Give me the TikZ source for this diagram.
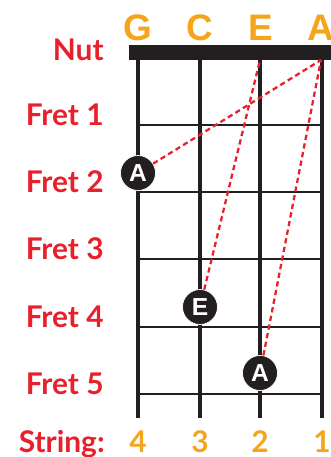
\documentclass[tikz,border=0pt]{standalone}
\usepackage{fontspec}
\setmainfont{Lato}
\newfontfamily\notefont{Liberation Sans}
\usepackage{xcolor}
\usepackage{tikz}
\usetikzlibrary{positioning}
\definecolor{FretRed}{RGB}{232,32,44}
\definecolor{NoteOrange}{RGB}{246,164,28}
\definecolor{BoardBlack}{RGB}{35,31,32}

\begin{document}
\begin{tikzpicture}[x=0.02cm,y=-0.02cm,
        lbl/.style={anchor=base east,text=FretRed,font=\fontsize{17}{17}\selectfont\bfseries,inner sep=0pt},
        tuning/.style={anchor=base,text=NoteOrange,font=\notefont\fontsize{21}{21}\selectfont\bfseries,inner sep=0pt},
        num/.style={anchor=base,text=NoteOrange,font=\fontsize{17}{17}\selectfont\bfseries,inner sep=0pt},
        wire/.style={BoardBlack,line width=1.9pt},
        fretline/.style={BoardBlack,line width=1.7pt},
        dot/.style={circle,fill=BoardBlack,draw=white,line width=0.4pt,minimum size=0.7cm,inner sep=0pt,
                    text=white,font=\notefont\fontsize{14}{14}\selectfont\bfseries},
        path/.style={FretRed,line width=1.3pt,dash pattern=on 3pt off 2pt}
      ]
        \useasboundingbox (0,0) rectangle (331,457);
        % strings
        \foreach \x in {138,200,260,322}
          \draw[wire] (\x,60) -- (\x,418);
        % frets
        \foreach \y in {125,192,259,327,394}
          \draw[fretline] (138,\y) -- (322,\y);
        % nut
        \fill[BoardBlack] (129,45) rectangle (331,60);
        \coordinate (nutE) at (260,60);
        \coordinate (nutA) at (321,60);
        % tuning
        \node[tuning] (G) at (138,40) {G};
        \node[tuning] (C) at (200,40) {C};
        \node[tuning] (E) at (261,40) {E};
        \node[tuning] (A) at (321,40) {A};
        % labels
        \node[lbl] (nut) at (104,60) {Nut};
        \node[lbl] (f1) at (104,125) {Fret 1};
        \node[lbl] (f2) at (104,192) {Fret 2};
        \node[lbl] (f3) at (104,259) {Fret 3};
        \node[lbl] (f4) at (104,327) {Fret 4};
        \node[lbl] (f5) at (104,394) {Fret 5};
        \node[lbl] (str) at (105,452) {String:};
        \node[num] (s4) at (138,452) {4};
        \node[num] (s3) at (200,452) {3};
        \node[num] (s2) at (260,452) {2};
        \node[num] (s1) at (322,452) {1};
        % notes
        \node[dot] (dA1) at (138,173) {A};
        \node[dot] (dE) at (200,307) {E};
        \node[dot] (dA2) at (260,373) {A};
        \draw[path] (dA1) -- (nutA);
        \draw[path] (dE) -- (nutE);
        \draw[path] (dA2) -- (nutA);
      \end{tikzpicture}
\end{document}
